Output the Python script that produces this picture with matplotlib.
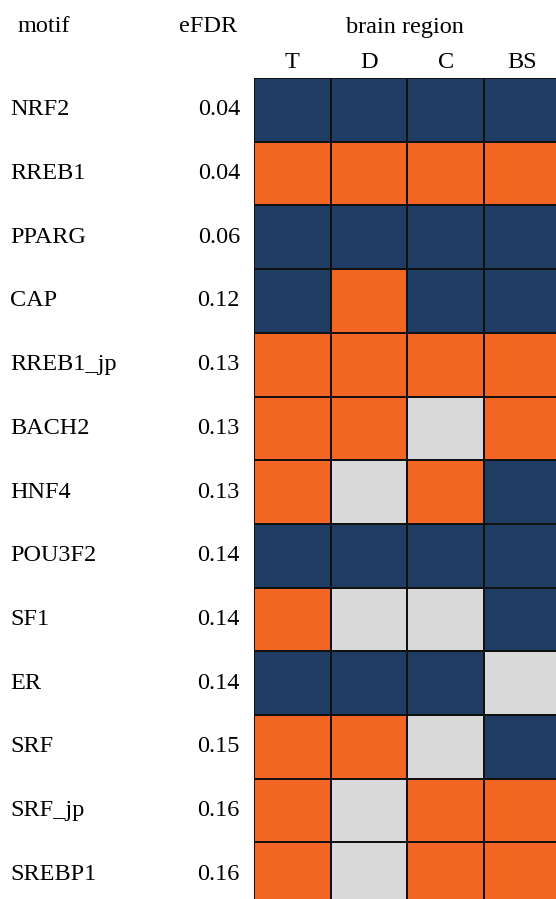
import matplotlib
matplotlib.use("Agg")
import matplotlib.pyplot as plt
import numpy as np
from matplotlib.colors import ListedColormap, BoundaryNorm
from matplotlib.transforms import blended_transform_factory

motifs = ["NRF2", "RREB1", "PPARG", "CAP", "RREB1_jp", "BACH2", "HNF4",
          "POU3F2", "SF1", "ER", "SRF", "SRF_jp", "SREBP1"]
efdr = ["0.04", "0.04", "0.06", "0.12", "0.13", "0.13", "0.13",
        "0.14", "0.14", "0.14", "0.15", "0.16", "0.16"]
regions = ["T", "D", "C", "BS"]
# -1 = down (navy), 0 = not significant (grey), 1 = up (orange)
status = [
    [-1, -1, -1, -1],
    [1, 1, 1, 1],
    [-1, -1, -1, -1],
    [-1, 1, -1, -1],
    [1, 1, 1, 1],
    [1, 1, 0, 1],
    [1, 0, 1, -1],
    [-1, -1, -1, -1],
    [1, 0, 0, -1],
    [-1, -1, -1, 0],
    [1, 1, 0, -1],
    [1, 0, 1, 1],
    [1, 0, 1, 1],
]

navy = "#1f3d63"
orange = "#f26522"
grey = "#d9d9d9"

plt.rcParams['font.family'] = ['Liberation Serif', 'DejaVu Serif']
W, H = 556, 899
fig = plt.figure(figsize=(W / 100, H / 100), dpi=100)

left, top = 254, 78
cw, rh = 76.7, 63.7
nrow, ncol = len(motifs), len(regions)
ax = fig.add_axes([left / W, 1 - (top + nrow * rh) / H, ncol * cw / W, nrow * rh / H])

cmap = ListedColormap([navy, grey, orange])
norm = BoundaryNorm([-1.5, -0.5, 0.5, 1.5], 3)
ax.pcolormesh(np.array(status), cmap=cmap, norm=norm, edgecolors="#111111", linewidth=1.3)
ax.set_xlim(0, ncol)
ax.set_ylim(nrow, 0)
ax.axis("off")

fs = 17.5
tr = blended_transform_factory(fig.transFigure, ax.transData)
for i, (m, e) in enumerate(zip(motifs, efdr)):
    ax.text(10 / W, i + 0.5, m, transform=tr, ha="left", va="center", fontsize=fs, clip_on=False)
    ax.text(240 / W, i + 0.5, e, transform=tr, ha="right", va="center", fontsize=fs, clip_on=False)

trx = blended_transform_factory(ax.transData, fig.transFigure)
for j, r in enumerate(regions):
    ax.text(j + 0.5, 1 - 62 / H, r, transform=trx, ha="center", va="center", fontsize=fs, clip_on=False)

fig.text(18 / W, 1 - 27 / H, "motif", ha="left", va="center", fontsize=fs)
fig.text(208 / W, 1 - 27 / H, "eFDR", ha="center", va="center", fontsize=fs)
fig.text(405 / W, 1 - 27 / H, "brain region", ha="center", va="center", fontsize=fs)

fig.savefig("out.png", dpi=100)
